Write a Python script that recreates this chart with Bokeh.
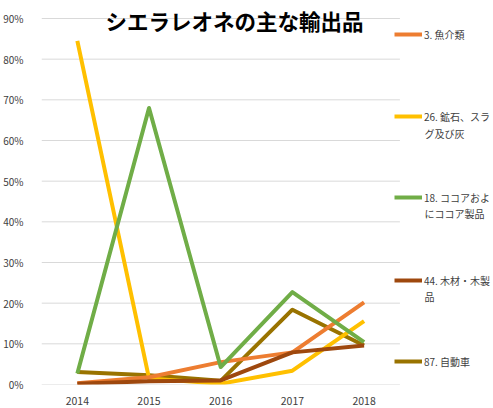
from bokeh.plotting import figure
from bokeh.models import (Legend, LegendItem, Label, NumeralTickFormatter,
                          FixedTicker, Range1d)
from bokeh.embed import file_html
from bokeh.resources import INLINE

years = ["2014", "2015", "2016", "2017", "2018"]
fish = [0.003, 0.018, 0.055, 0.079, 0.202]
ores = [0.845, 0.015, 0.002, 0.034, 0.156]
cocoa = [0.027, 0.680, 0.043, 0.227, 0.104]
wood = [0.002, 0.008, 0.010, 0.079, 0.096]
cars = [0.031, 0.023, 0.009, 0.184, 0.096]
y_ticks = [0.0, 0.1, 0.2, 0.3, 0.4, 0.5, 0.6, 0.7, 0.8, 0.9]

title_text = "シエラレオネの主な輸出品"
series = [
    ("3. 魚介類", None, fish, "#ED7D31"),
    ("26. 鉱石、スラ", "グ及び灰", ores, "#FFC000"),
    ("18. ココアおよ", "にココア製品", cocoa, "#70AD47"),
    ("44. 木材・木製", "品", wood, "#9E480E"),
    ("87. 自動車", None, cars, "#997300"),
]

FONT = "Noto Sans CJK JP"
W, H = 493, 408
frame_left, frame_top, frame_bottom = 39, 0, 384
band = 72.0
n = len(years)
xs = list(range(n))
ymax = y_ticks[-1]
# frame spans top of figure; 90% gridline sits 18px below it
y_end = ymax * (frame_bottom - frame_top) / (frame_bottom - 18)
x_end = (W - frame_left) / band - 0.5

p = figure(width=W, height=H, x_range=Range1d(-0.5, x_end),
           y_range=Range1d(0, y_end),
           output_backend="svg", toolbar_location=None, title=None,
           min_border_left=frame_left, min_border_right=0, min_border_top=0,
           min_border_bottom=H - frame_bottom)
p.outline_line_color = None
p.background_fill_color = "white"
p.xgrid.grid_line_color = None
p.ygrid.grid_line_color = None

# horizontal gridlines across the category area only
p.segment(x0=[-0.5] * len(y_ticks), x1=[n - 0.5] * len(y_ticks),
          y0=y_ticks, y1=y_ticks, line_color="#D9D9D9", line_width=1)

p.yaxis.ticker = FixedTicker(ticks=y_ticks)
p.yaxis.formatter = NumeralTickFormatter(format="0%")
p.xaxis.ticker = FixedTicker(ticks=xs)
p.xaxis.major_label_overrides = {i: y for i, y in enumerate(years)}
for ax in (p.xaxis, p.yaxis):
    ax.axis_line_color = None
    ax.major_tick_line_color = None
    ax.minor_tick_line_color = None
    ax.major_label_text_font = FONT
    ax.major_label_text_color = "#404040"
p.yaxis.major_label_text_font_size = "10px"
p.xaxis.major_label_text_font_size = "10.5px"
p.yaxis.major_label_standoff = 12
p.xaxis.major_label_standoff = 6

order = [4, 1, 0, 2, 3]
renderers = {}
for i in order:
    lab, lab2, vals, col = series[i]
    renderers[i] = p.line(xs, vals, line_color=col, line_width=4,
                          line_join="round")

first_y = [34, 116, 197, 280, 361]
second_y = [None, 133, 213, 296, None]
for i, (lab, lab2, vals, col) in enumerate(series):
    leg = Legend(items=[LegendItem(label=lab, renderers=[renderers[i]])],
                 location=(392 - frame_left, frame_bottom - first_y[i] - 10),
                 padding=0, margin=0, border_line_color=None,
                 background_fill_alpha=0, glyph_width=28, glyph_height=20,
                 label_standoff=2, label_height=20,
                 label_text_font=FONT, label_text_font_size="10px",
                 label_text_color="#404040")
    p.add_layout(leg, "center")
    if lab2:
        p.add_layout(Label(x=422 - frame_left, y=frame_bottom - second_y[i],
                           x_units="screen", y_units="screen", text=lab2,
                           text_font=FONT, text_font_size="10px",
                           text_color="#404040", text_baseline="middle"))

p.add_layout(Label(x=232 - frame_left, y=frame_bottom - 20,
                   x_units="screen", y_units="screen", text=title_text,
                   text_font=FONT, text_font_size="21.5px",
                   text_font_style="bold",
                   text_color="#000000", text_align="center",
                   text_baseline="middle"))

open("out.html", "w").write(file_html(p, INLINE))
